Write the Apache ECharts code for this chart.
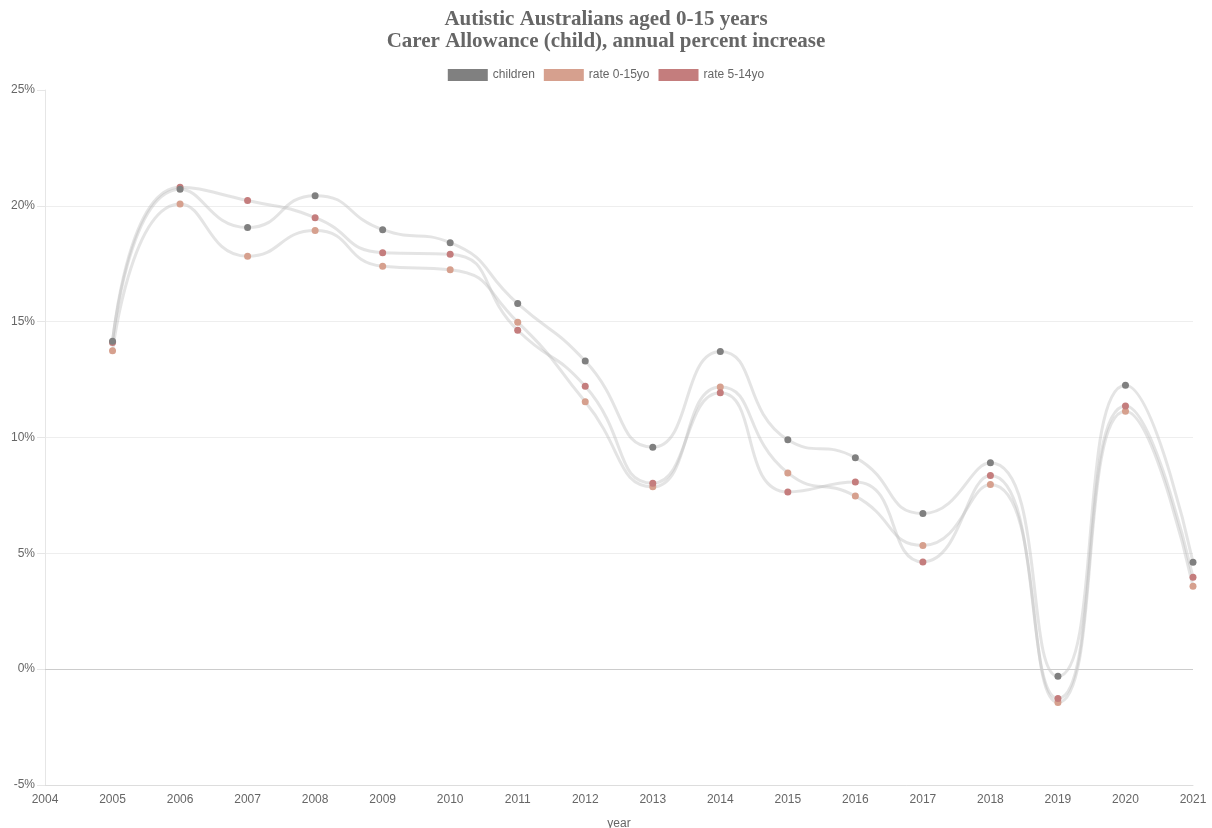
<!DOCTYPE html>
<html>
<head>
<meta charset="utf-8">
<script src="https://cdn.jsdelivr.net/npm/echarts@6/dist/echarts.min.js"></script>
<style>
  html, body { margin: 0; padding: 0; background: #fff; }
  #main { width: 1212px; height: 828px; }
</style>
</head>
<body>
<div id="main"></div>
<script>
// data
const years = [2005, 2006, 2007, 2008, 2009, 2010, 2011, 2012, 2013, 2014, 2015, 2016, 2017, 2018, 2019, 2020, 2021]
const children = [14.16, 20.72, 19.06, 20.44, 18.97, 18.41, 15.78, 13.3, 9.58, 13.71, 9.9, 9.13, 6.72, 8.91, -0.31, 12.26, 4.62]
const rate0to15 = [13.74, 20.08, 17.82, 18.93, 17.39, 17.24, 14.98, 11.54, 7.87, 12.18, 8.47, 7.47, 5.34, 7.97, -1.44, 11.13, 3.58]
const rate5to14 = [14.1, 20.8, 20.23, 19.49, 17.98, 17.91, 14.63, 12.21, 8.03, 11.93, 7.65, 8.08, 4.63, 8.36, -1.27, 11.36, 3.97]

const seriesNames = ["children", "rate 0-15yo", "rate 5-14yo"]
const seriesColors = ["#808080", "#d6a08e", "#c47d7d"]

const pairs = vals => years.map((y, i) => [y, vals[i]])

const myChart = echarts.init(document.getElementById("main"))

const makeSeries = (name, vals, color, extra = {}) => ({
  name,
  type: "line",
  data: pairs(vals),
  smooth: 0.55,
  symbol: "circle",
  symbolSize: 7,
  itemStyle: { color },
  lineStyle: { color: "#bbb", width: 3, opacity: 0.4 },
  emphasis: { disabled: true },
  ...extra,
})

myChart.setOption({
  animation: false,
  title: {
    text: "Autistic Australians aged 0-15 years\nCarer Allowance (child), annual percent increase",
    left: "center",
    top: 4,
    textStyle: {
      fontFamily: "'Liberation Serif', 'DejaVu Serif', serif",
      fontWeight: "bold",
      fontSize: 21,
      lineHeight: 22,
      color: "#666",
    },
  },
  legend: {
    top: 64,
    left: "center",
    icon: "rect",
    itemWidth: 40,
    itemHeight: 12,
    itemGap: 9,
    textStyle: { fontFamily: "'Liberation Sans', Arial, sans-serif", fontSize: 12, color: "#666" },
    data: seriesNames.map((n, i) => ({ name: n, itemStyle: { color: seriesColors[i] } })),
  },
  grid: { left: 45, right: 19, top: 90, bottom: 43, outerBoundsMode: "none" },
  xAxis: {
    type: "value",
    min: 2004,
    max: 2021,
    interval: 1,
    name: "year",
    nameLocation: "middle",
    nameGap: 33,
    nameTextStyle: { fontFamily: "'Liberation Sans', Arial, sans-serif", fontSize: 12, color: "#666" },
    axisLine: { onZero: false, lineStyle: { color: "#ddd" } },
    axisTick: { show: false },
    splitLine: { show: false },
    axisLabel: {
      formatter: v => String(v),
      fontFamily: "'Liberation Sans', Arial, sans-serif",
      fontSize: 12,
      color: "#666",
      margin: 9,
    },
  },
  yAxis: {
    type: "value",
    min: -5,
    max: 25,
    interval: 5,
    axisLine: { show: true, lineStyle: { color: "#e6e6e6" } },
    axisTick: { show: true, length: 8, lineStyle: { color: "#e6e6e6" } },
    splitLine: { show: true, showMaxLine: false, lineStyle: { color: "#eee" } },
    axisLabel: {
      formatter: v => v + "%",
      fontFamily: "'Liberation Sans', Arial, sans-serif",
      fontSize: 12,
      color: "#666",
      margin: 10,
    },
  },
  series: [
    makeSeries(seriesNames[0], children, seriesColors[0], {
      z: 4,
      markLine: {
        silent: true,
        symbol: "none",
        label: { show: false },
        lineStyle: { color: "#ccc", type: "solid", width: 1 },
        data: [{ yAxis: 0 }],
      },
    }),
    makeSeries(seriesNames[1], rate0to15, seriesColors[1]),
    makeSeries(seriesNames[2], rate5to14, seriesColors[2]),
  ],
})
</script>
</body>
</html>
